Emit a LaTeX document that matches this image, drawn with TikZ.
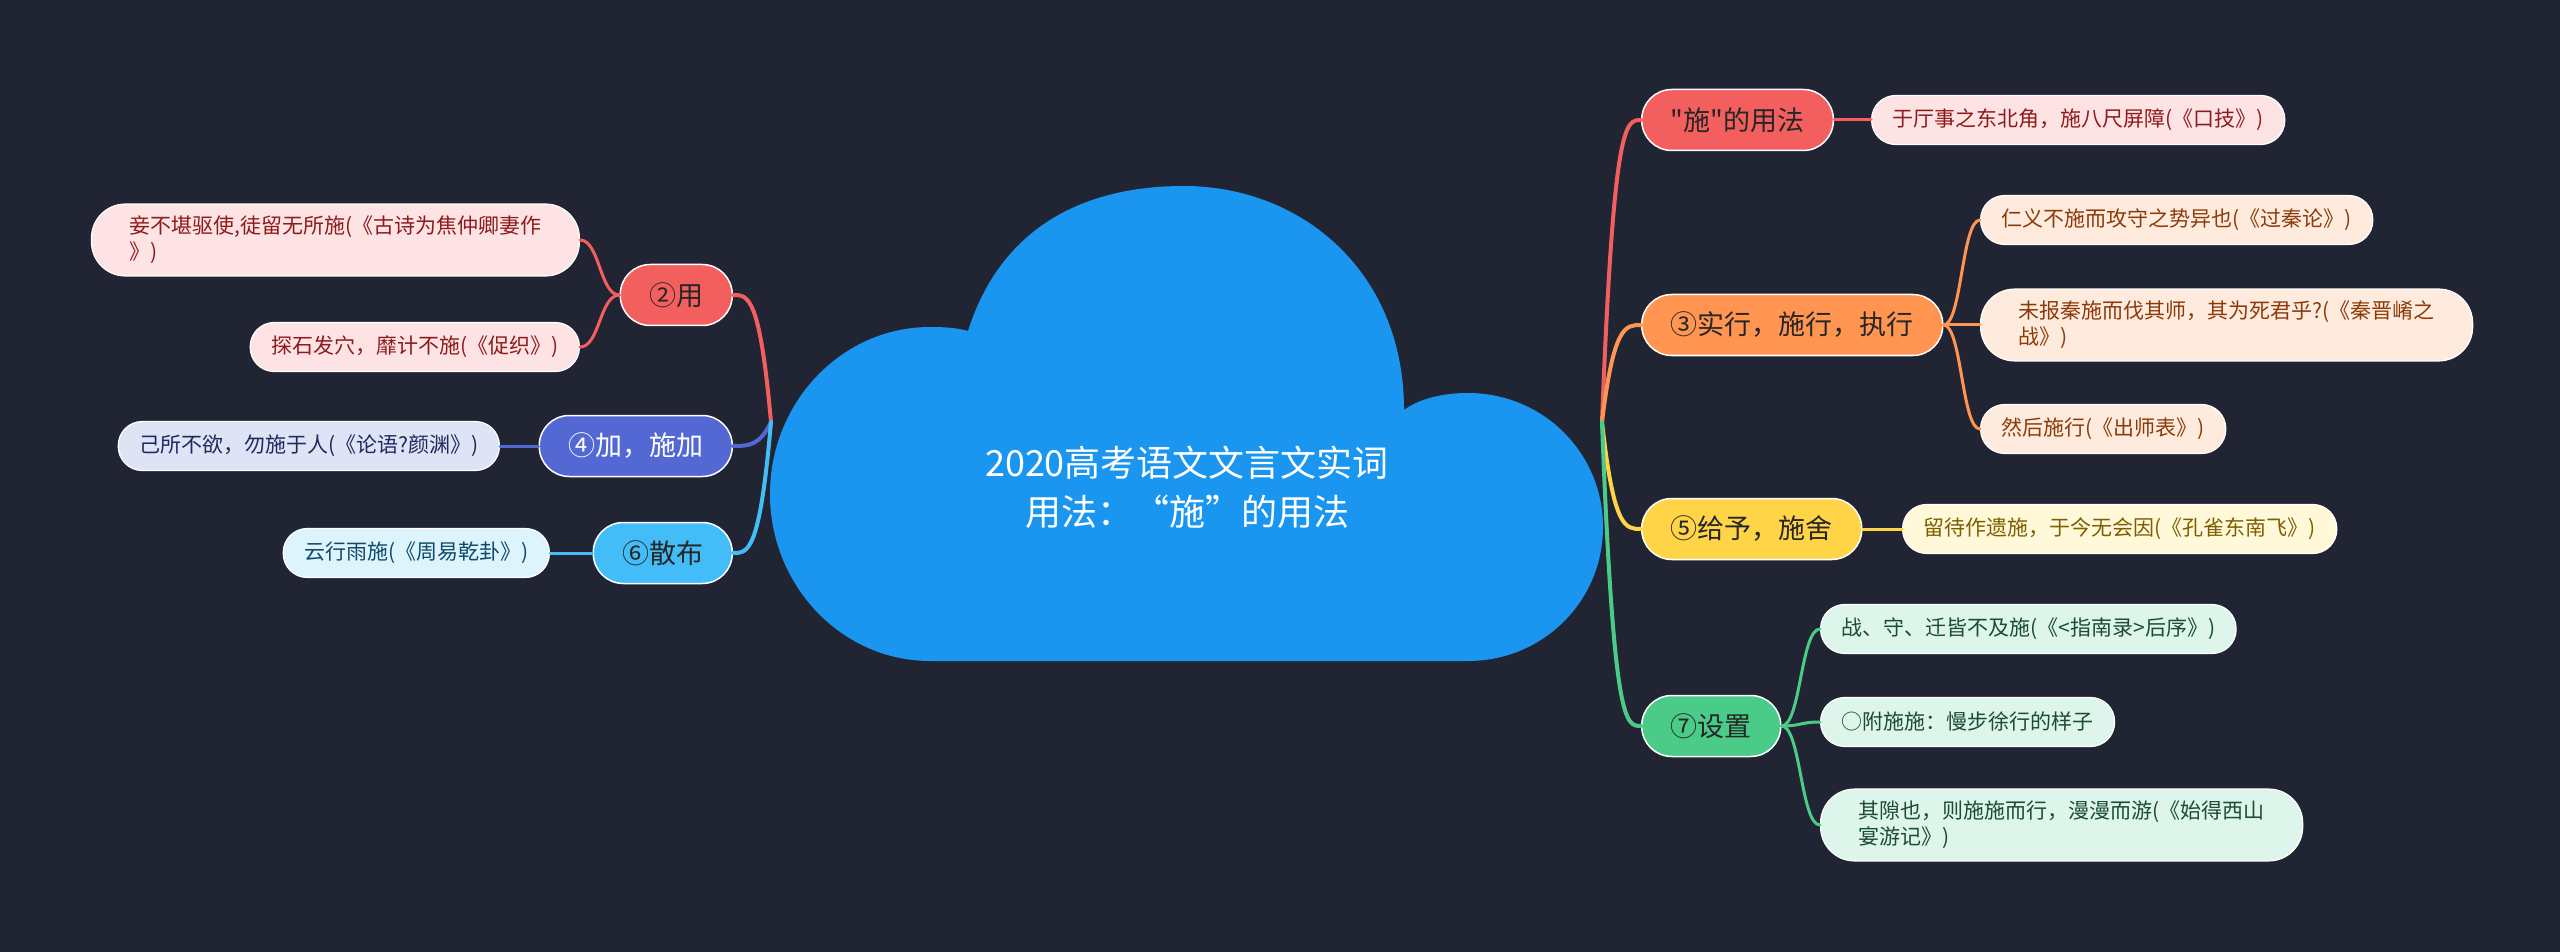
\documentclass[tikz,border=0pt]{standalone}
\usepackage{fontspec}
\newfontfamily\cjk{Noto Sans CJK SC}
\usepackage{tikz}
\usetikzlibrary{calc,positioning}
\definecolor{bgdark}{RGB}{33,37,51}
\definecolor{cloudblue}{RGB}{26,150,240}
\definecolor{redmain}{RGB}{243,95,94}
\definecolor{redleaf}{RGB}{253,227,227}
\definecolor{redtext}{RGB}{142,27,27}
\definecolor{orangemain}{RGB}{255,149,80}
\definecolor{orangeleaf}{RGB}{255,235,221}
\definecolor{orangetext}{RGB}{138,59,10}
\definecolor{yellowmain}{RGB}{255,212,71}
\definecolor{yellowleaf}{RGB}{255,248,217}
\definecolor{yellowtext}{RGB}{125,95,0}
\definecolor{greenmain}{RGB}{74,203,135}
\definecolor{greenleaf}{RGB}{221,245,234}
\definecolor{greentext}{RGB}{28,76,51}
\definecolor{violetmain}{RGB}{84,104,212}
\definecolor{violetleaf}{RGB}{223,227,246}
\definecolor{violettext}{RGB}{29,42,92}
\definecolor{skymain}{RGB}{66,189,247}
\definecolor{skyleaf}{RGB}{221,244,253}
\definecolor{skytext}{RGB}{15,74,106}

\begin{document}
\begin{tikzpicture}[x=0.5pt,y=-0.5pt,line cap=round,
  topic/.style={draw=white,line width=0.75pt,rounded corners=15pt,minimum height=30.5pt,
    inner xsep=14.5pt,font=\cjk\fontsize{13.5}{16}\selectfont,text=black!85},
  leaf/.style={draw=white,line width=0.6pt,rounded corners=12pt,minimum height=24.5pt,
    inner xsep=10.5pt,inner ysep=6pt,align=left,font=\cjk\fontsize{10.5}{13}\selectfont},
  twoline/.style={rounded corners=17pt,inner xsep=19pt},
  rootlink/.style={line width=2pt,to path={let \p1=(\tikztostart),\p2=(\tikztotarget) in
    .. controls ({\x1+0.3*(\x2-\x1)},\y2) and ({\x1+0.6*(\x2-\x1)},\y2) .. (\tikztotarget)}},
  leaflink/.style={line width=1.5pt,to path={let \p1=(\tikztostart),\p2=(\tikztotarget) in
    .. controls ({\x1+0.5*(\x2-\x1)},\y1) and ({\x1+0.5*(\x2-\x1)},\y2) .. (\tikztotarget)}}]
  \fill[bgdark] (0,0) rectangle (2560,952);
  \useasboundingbox (0,0) rectangle (2560,952);
  % cloud
  \fill[cloudblue] (930,661) .. controls (842,661) and (770,586) .. (770,494)
    .. controls (770,402) and (842,327) .. (930,327)
    .. controls (945,327) and (958,328) .. (968,331)
    .. controls (1000,230) and (1080,186) .. (1184,186)
    .. controls (1300,186) and (1404,270) .. (1404,410)
    .. controls (1420,398) and (1445,393) .. (1468,393)
    .. controls (1543,393) and (1603,453) .. (1603,527)
    .. controls (1603,601) and (1543,661) .. (1468,661) -- cycle;
  \node[text=white,align=center,font=\cjk\fontsize{18}{24.5}\selectfont] (title) at (1187,487)
    {2020高考语文文言文实词\\用法：“施”的用法};
  \coordinate (rootL) at (771,422);
  \coordinate (rootR) at (1602,422);

  % right branches
  \node[topic,fill=redmain,anchor=west] (shiyong) at (1641,120) {"施"的用法};
  \node[topic,fill=orangemain,anchor=west] (shixing) at (1641,325) {③实行，施行，执行};
  \node[topic,fill=yellowmain,anchor=west] (geiyu) at (1641,529) {⑤给予，施舍};
  \node[topic,fill=greenmain,anchor=west] (shezhi) at (1641,726) {⑦设置};
  \node[leaf,fill=redleaf,text=redtext,anchor=west] (kouji) at (1871,120) {于厅事之东北角，施八尺屏障(《口技》)};
  \node[leaf,fill=orangeleaf,text=orangetext,anchor=west] (guoqin) at (1980,220) {仁义不施而攻守之势异也(《过秦论》)};
  \node[leaf,twoline,fill=orangeleaf,text=orangetext,anchor=west] (qinjin) at (1980,325) {未报秦施而伐其师，其为死君乎?(《秦晋崤之\\战》)};
  \node[leaf,fill=orangeleaf,text=orangetext,anchor=west] (chushi) at (1980,429) {然后施行(《出师表》)};
  \node[leaf,fill=yellowleaf,text=yellowtext,anchor=west] (kongque) at (1902,529) {留待作遗施，于今无会因(《孔雀东南飞》)};
  \node[leaf,fill=greenleaf,text=greentext,anchor=west] (zhinan) at (1820,629) {战、守、迁皆不及施(《<指南录>后序》)};
  \node[leaf,fill=greenleaf,text=greentext,anchor=west] (fushi) at (1820,722) {○附施施：慢步徐行的样子};
  \node[leaf,twoline,fill=greenleaf,text=greentext,anchor=west] (xishan) at (1820,825) {其隙也，则施施而行，漫漫而游(《始得西山\\宴游记》)};

  % left branches
  \node[topic,fill=redmain,anchor=east] (yong) at (733,295) {②用};
  \node[topic,fill=violetmain,text=white,anchor=east] (jia) at (733,446) {④加，施加};
  \node[topic,fill=skymain,anchor=east] (sanbu) at (733,553) {⑥散布};
  \node[leaf,twoline,fill=redleaf,text=redtext,anchor=east] (jiaozhong) at (580,240) {妾不堪驱使,徒留无所施(《古诗为焦仲卿妻作\\》)};
  \node[leaf,fill=redleaf,text=redtext,anchor=east] (cuzhi) at (580,347) {探石发穴，靡计不施(《促织》)};
  \node[leaf,fill=violetleaf,text=violettext,anchor=east] (lunyu) at (500,446) {己所不欲，勿施于人(《论语?颜渊》)};
  \node[leaf,fill=skyleaf,text=skytext,anchor=east] (zhouyi) at (550,553) {云行雨施(《周易乾卦》)};

  % connectors
  \draw[rootlink,redmain] (rootR) to (shiyong.west);
  \draw[rootlink,orangemain] (rootR) to (shixing.west);
  \draw[rootlink,yellowmain] (rootR) to (geiyu.west);
  \draw[rootlink,greenmain] (rootR) to (shezhi.west);
  \draw[rootlink,redmain] (rootL) to (yong.east);
  \draw[rootlink,violetmain] (rootL) to (jia.east);
  \draw[rootlink,skymain] (rootL) to (sanbu.east);
  \draw[leaflink,redmain] (shiyong.east) to (kouji.west);
  \draw[leaflink,orangemain] (shixing.east) to (guoqin.west);
  \draw[leaflink,orangemain] (shixing.east) to (qinjin.west);
  \draw[leaflink,orangemain] (shixing.east) to (chushi.west);
  \draw[leaflink,yellowmain] (geiyu.east) to (kongque.west);
  \draw[leaflink,greenmain] (shezhi.east) to (zhinan.west);
  \draw[leaflink,greenmain] (shezhi.east) to (fushi.west);
  \draw[leaflink,greenmain] (shezhi.east) to (xishan.west);
  \draw[leaflink,redmain] (yong.west) to (jiaozhong.east);
  \draw[leaflink,redmain] (yong.west) to (cuzhi.east);
  \draw[leaflink,violetmain] (jia.west) to (lunyu.east);
  \draw[leaflink,skymain] (sanbu.west) to (zhouyi.east);
\end{tikzpicture}
\end{document}
